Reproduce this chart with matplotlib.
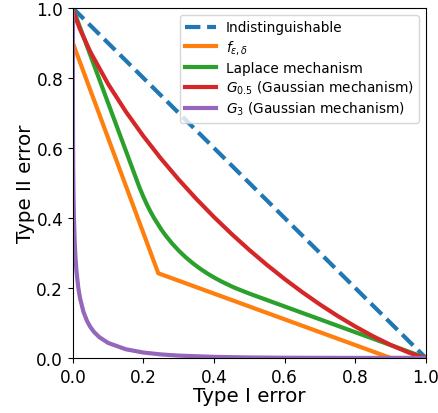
import matplotlib
matplotlib.use("Agg")
import matplotlib.pyplot as plt

# Indistinguishable
ind_x = [0.0, 1.0]
ind_y = [1.0, 0.0]

# f_{eps,delta}
f_x = [0.0, 0.242, 0.9, 1.0]
f_y = [0.9, 0.242, 0.0, 0.0]

# Laplace mechanism
lap_x = [0.0, 0.184, 0.19, 0.20, 0.21, 0.22, 0.23, 0.25, 0.26, 0.28, 0.30, 0.32,
         0.34, 0.36, 0.38, 0.40, 0.42, 0.45, 0.46, 0.50, 1.0]
lap_y = [1.0, 0.5, 0.484, 0.460, 0.438, 0.418, 0.400, 0.368, 0.3537, 0.3285, 0.3066, 0.2874,
         0.2705, 0.2555, 0.2420, 0.2299, 0.2190, 0.2044, 0.1999, 0.1839, 0.0]

# G_0.5
g05_x = [0.0, 0.001, 0.01, 0.02, 0.05, 0.10, 0.15, 0.20, 0.25, 0.30, 0.35, 0.40, 0.45,
         0.50, 0.55, 0.60, 0.65, 0.70, 0.75, 0.80, 0.85, 0.90, 0.95, 0.98, 1.0]
g05_y = [1.0, 0.9952, 0.9661, 0.9399, 0.8739, 0.7828, 0.7042, 0.6337, 0.5693, 0.5097,
         0.4543, 0.4026, 0.3541, 0.3085, 0.2658, 0.2256, 0.1880, 0.1528, 0.1201, 0.0899,
         0.0622, 0.0374, 0.0160, 0.0053, 0.0]

# G_3
g3_x = [0.0, 1e-6, 1e-5, 1e-4, 0.0005, 0.001, 0.002, 0.003, 0.005, 0.007, 0.01, 0.015,
        0.02, 0.03, 0.04, 0.05, 0.06, 0.075, 0.10, 0.15, 0.20, 0.25, 0.30, 0.40, 0.50,
        0.60, 0.80, 1.0]
g3_y = [1.0, 0.9602, 0.8971, 0.7640, 0.6143, 0.5359, 0.4514, 0.4005, 0.3357, 0.2936,
        0.2502, 0.2033, 0.1720, 0.1315, 0.1058, 0.0877, 0.0742, 0.0593, 0.0429, 0.0248,
        0.0154, 0.0100, 0.00665, 0.00301, 0.00135, 0.00057, 0.00006, 0.0]

fig = plt.figure(figsize=(4.39, 4.14), dpi=100)
ax = fig.add_axes([0.166, 0.133, 0.804, 0.845])

lw = 3
ax.plot(ind_x, ind_y, '--', color='C0', lw=lw, label='Indistinguishable')
ax.plot(f_x, f_y, color='C1', lw=lw, label=r'$f_{\varepsilon,\delta}$')
ax.plot(lap_x, lap_y, color='C2', lw=lw, label='Laplace mechanism')
ax.plot(g05_x, g05_y, color='C3', lw=lw, label=r'$G_{0.5}$ (Gaussian mechanism)')
ax.plot(g3_x, g3_y, color='C4', lw=lw, label=r'$G_3$ (Gaussian mechanism)')

ax.set_xlim(0, 1)
ax.set_ylim(0, 1)
ax.set_xticks([0, 0.2, 0.4, 0.6, 0.8, 1.0])
ax.set_yticks([0, 0.2, 0.4, 0.6, 0.8, 1.0])
ax.tick_params(labelsize=12.2)
ax.set_xlabel('Type I error', fontsize=14.3, labelpad=0)
ax.set_ylabel('Type II error', fontsize=14.3, labelpad=1)
ax.legend(loc='upper right', fontsize=9.8, labelspacing=0.3, handlelength=2.3,
          handletextpad=0.7, borderaxespad=0.5)

fig.savefig('out.png', dpi=100)
